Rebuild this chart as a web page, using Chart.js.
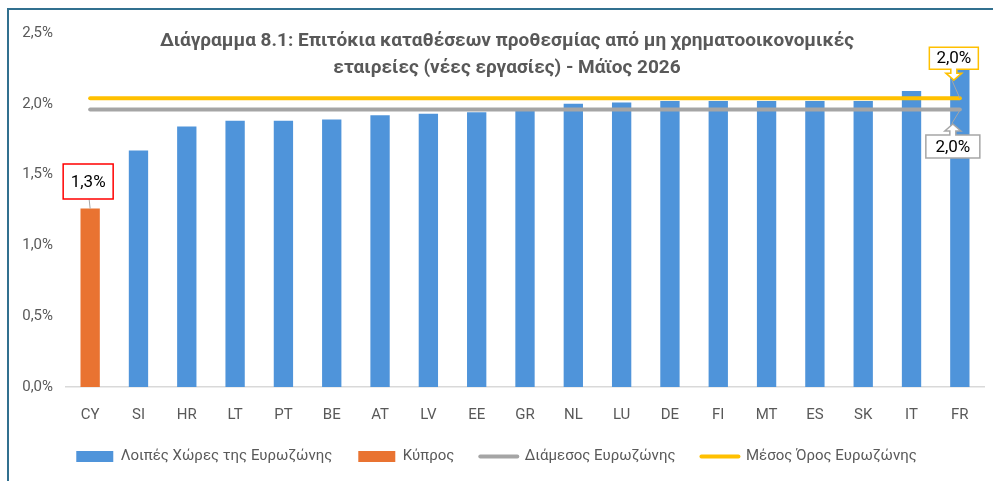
<!DOCTYPE html>
<html lang="el">
<head>
    <meta charset="UTF-8">
    <title>Διάγραμμα 8.1</title>
    <script src="https://cdn.jsdelivr.net/npm/chart.js"></script>
    <style>
        html, body {
            margin: 0;
            padding: 0;
            overflow: hidden;
            background: #fff;
        }

        .frame {
            position: absolute;
            left: 7px;
            top: 8px;
            width: 984px;
            height: 471px;
            border-left: 2px solid #31708f;
            border-top: 2px solid #31708f;
        }
    </style>
</head>
<body>
    <div class="frame">
        <canvas id="depositChart"></canvas>
    </div>

    <script>
        // Data
        const countries = ['CY', 'SI', 'HR', 'LT', 'PT', 'BE', 'AT', 'LV', 'EE', 'GR',
                           'NL', 'LU', 'DE', 'FI', 'MT', 'ES', 'SK', 'IT', 'FR'];
        const otherRates = [null, 1.67, 1.84, 1.88, 1.88, 1.89, 1.92, 1.93, 1.94, 1.95,
                            2.00, 2.01, 2.02, 2.02, 2.02, 2.02, 2.02, 2.09, 2.25];
        const cyprusRates = [1.26, null, null, null, null, null, null, null, null, null,
                             null, null, null, null, null, null, null, null, null];
        const medianLine = [1.96, 1.96, 1.96, 1.96, 1.96, 1.96, 1.96, 1.96, 1.96, 1.96,
                            1.96, 1.96, 1.96, 1.96, 1.96, 1.96, 1.96, 1.96, 1.96];
        const averageLine = [2.04, 2.04, 2.04, 2.04, 2.04, 2.04, 2.04, 2.04, 2.04, 2.04,
                             2.04, 2.04, 2.04, 2.04, 2.04, 2.04, 2.04, 2.04, 2.04];
        const yTicks = [0, 0.5, 1.0, 1.5, 2.0, 2.5];
        const titleLines = ['Διάγραμμα 8.1: Επιτόκια καταθέσεων προθεσμίας από μη χρηματοοικονομικές',
                            'εταιρείες (νέες εργασίες) - Μάϊος 2026'];

        const FONT = 'Roboto, "Noto Sans", sans-serif';
        const fmt = v => v.toFixed(1).replace('.', ',') + '%';

        // Title sits inside the plot area, so draw it by hand
        const titlePlugin = {
            id: 'insideTitle',
            afterDraw(chart) {
                const ctx = chart.ctx;
                ctx.save();
                ctx.font = 'bold 19px ' + FONT;
                ctx.fillStyle = '#595959';
                ctx.textAlign = 'center';
                ctx.textBaseline = 'middle';
                const cx = chart.width / 2 + 6;
                ctx.fillText(titleLines[0], cx, 31);
                ctx.fillText(titleLines[1], cx, 58);
                ctx.restore();
            }
        };

        function calloutBox(ctx, cx, cy, w, h, arrowDir, border, text) {
            // box with a small block arrow (down: 1, up: -1, none: 0)
            const l = cx - w / 2, r = cx + w / 2, t = cy - h / 2, b = cy + h / 2;
            ctx.beginPath();
            ctx.moveTo(l, t);
            if (arrowDir === -1) {
                ctx.lineTo(cx - 3, t);
                ctx.lineTo(cx - 3, t - 4);
                ctx.lineTo(cx - 8, t - 4);
                ctx.lineTo(cx, t - 11);
                ctx.lineTo(cx + 8, t - 4);
                ctx.lineTo(cx + 3, t - 4);
                ctx.lineTo(cx + 3, t);
            }
            ctx.lineTo(r, t);
            ctx.lineTo(r, b);
            if (arrowDir === 1) {
                ctx.lineTo(cx + 3, b);
                ctx.lineTo(cx + 3, b + 4);
                ctx.lineTo(cx + 8, b + 4);
                ctx.lineTo(cx, b + 11);
                ctx.lineTo(cx - 8, b + 4);
                ctx.lineTo(cx - 3, b + 4);
                ctx.lineTo(cx - 3, b);
            }
            ctx.lineTo(l, b);
            ctx.closePath();
            ctx.fillStyle = '#fff';
            ctx.fill();
            ctx.strokeStyle = border;
            ctx.lineWidth = 1.5;
            ctx.stroke();
            ctx.fillStyle = '#000';
            ctx.font = '17px ' + FONT;
            ctx.textAlign = 'center';
            ctx.textBaseline = 'middle';
            ctx.fillText(text, cx, cy + 1);
        }

        function leader(ctx, x1, y1, x2, y2) {
            ctx.beginPath();
            ctx.moveTo(x1, y1);
            ctx.lineTo(x2, y2);
            ctx.strokeStyle = '#a6a6a6';
            ctx.lineWidth = 1;
            ctx.stroke();
        }

        // Value labels for Cyprus and for the end of the two reference lines
        const calloutPlugin = {
            id: 'callouts',
            afterDatasetsDraw(chart) {
                const ctx = chart.ctx;
                ctx.save();

                const cyBar = chart.getDatasetMeta(1).data[0];
                leader(ctx, cyBar.x - 1, cyBar.y - 9, cyBar.x, cyBar.y);
                calloutBox(ctx, cyBar.x - 2, cyBar.y - 27, 50, 35, 0, '#ff0000', fmt(cyprusRates[0]));

                const last = countries.length - 1;
                const avgPt = chart.getDatasetMeta(3).data[last];
                leader(ctx, avgPt.x - 8, avgPt.y - 18, avgPt.x, avgPt.y);
                calloutBox(ctx, avgPt.x - 6, avgPt.y - 40, 49, 22, 1, '#ffc000', fmt(averageLine[last]));

                const medPt = chart.getDatasetMeta(2).data[last];
                leader(ctx, medPt.x - 8, medPt.y + 14, medPt.x, medPt.y + 1);
                calloutBox(ctx, medPt.x - 7, medPt.y + 37, 54, 23, -1, '#a6a6a6', fmt(medianLine[last]));

                ctx.restore();
            }
        };

        const ctx = document.getElementById('depositChart').getContext('2d');
        new Chart(ctx, {
            type: 'bar',
            data: {
                labels: countries,
                datasets: [{
                    label: 'Λοιπές Χώρες της Ευρωζώνης',
                    data: otherRates,
                    backgroundColor: '#4f94da',
                    order: 1
                }, {
                    label: 'Κύπρος',
                    data: cyprusRates,
                    backgroundColor: '#e97331',
                    order: 1
                }, {
                    type: 'line',
                    label: 'Διάμεσος Ευρωζώνης',
                    data: medianLine,
                    borderColor: '#a5a5a5',
                    backgroundColor: '#a5a5a5',
                    borderWidth: 4,
                    borderCapStyle: 'round',
                    pointRadius: 0,
                    order: 0
                }, {
                    type: 'line',
                    label: 'Μέσος Όρος Ευρωζώνης',
                    data: averageLine,
                    borderColor: '#ffc000',
                    backgroundColor: '#ffc000',
                    borderWidth: 4,
                    borderCapStyle: 'round',
                    pointRadius: 0,
                    order: 0
                }]
            },
            options: {
                responsive: true,
                maintainAspectRatio: false,
                animation: false,
                skipNull: true,
                barPercentage: 0.4,
                categoryPercentage: 1,
                layout: {
                    padding: { top: 23, right: 9, bottom: 7, left: 0 }
                },
                scales: {
                    x: {
                        grid: { display: false, drawTicks: false },
                        border: { display: true, color: '#d9d9d9', width: 1.5 },
                        ticks: {
                            color: '#595959',
                            font: { family: FONT, size: 15 },
                            padding: 19
                        },
                        afterFit: s => { s.height = 36; }
                    },
                    y: {
                        min: 0,
                        max: 2.5,
                        afterBuildTicks: s => { s.ticks = yTicks.map(v => ({ value: v })); },
                        grid: { display: false, drawTicks: false },
                        border: { display: false },
                        ticks: {
                            color: '#595959',
                            font: { family: FONT, size: 15 },
                            padding: 13,
                            callback: v => fmt(v)
                        },
                        afterFit: s => { s.width = 57; }
                    }
                },
                plugins: {
                    tooltip: { enabled: false },
                    title: { display: false },
                    legend: {
                        position: 'bottom',
                        labels: {
                            color: '#595959',
                            font: { family: FONT, size: 15 },
                            usePointStyle: true,
                            pointStyleWidth: 37,
                            boxHeight: 11,
                            padding: 26,
                            generateLabels: chart => chart.data.datasets.map((ds, i) => ({
                                text: ds.label,
                                fillStyle: ds.type === 'line' ? ds.borderColor : ds.backgroundColor,
                                strokeStyle: ds.type === 'line' ? ds.borderColor : ds.backgroundColor,
                                lineWidth: ds.type === 'line' ? 4 : 0,
                                lineCap: 'round',
                                pointStyle: ds.type === 'line' ? 'line' : 'rect',
                                fontColor: '#595959',
                                hidden: !chart.isDatasetVisible(i),
                                datasetIndex: i
                            }))
                        }
                    }
                }
            },
            plugins: [titlePlugin, calloutPlugin]
        });
    </script>
</body>
</html>
